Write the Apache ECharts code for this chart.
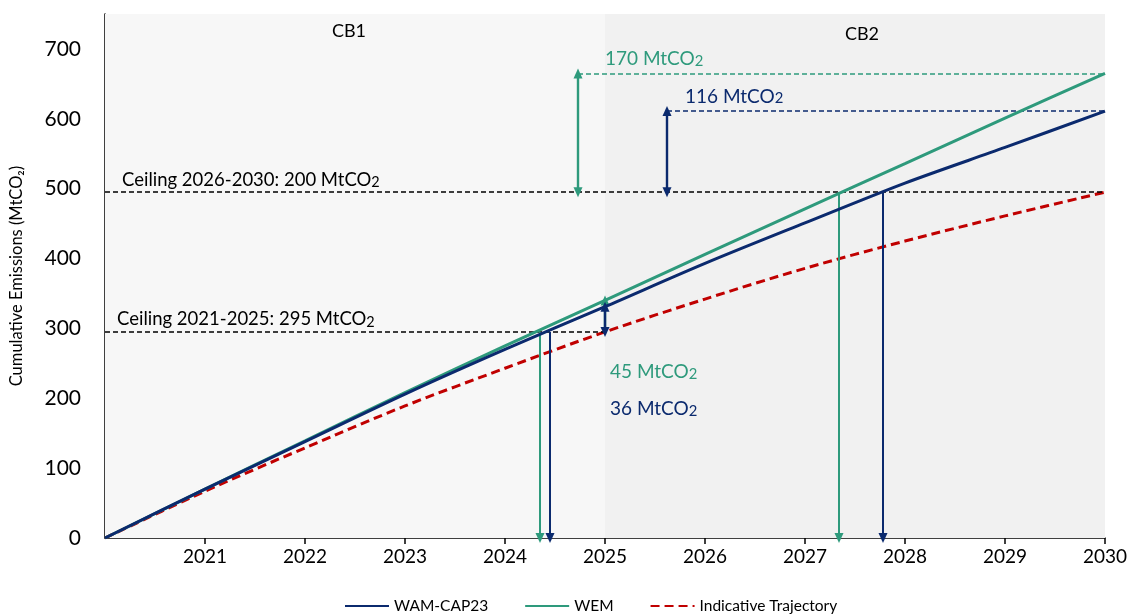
<!DOCTYPE html>
<html>
<head>
<meta charset="utf-8">
<script src="https://cdn.jsdelivr.net/npm/echarts@6/dist/echarts.min.js"></script>
<style>
  html, body { margin: 0; padding: 0; background: #ffffff; }
  #chart { width: 1132px; height: 614px; }
</style>
</head>
<body>
<div id="chart"></div>
<script>
// Cumulative emissions since 2020, MtCO2
const years = [2020, 2021, 2022, 2023, 2024, 2025, 2026, 2027, 2028, 2029, 2030];
const wamCap23 = [0, 70, 138, 206, 270, 331, 393, 451, 508, 559, 611];
const wem = [0, 70, 139, 208, 275, 340, 406, 471, 536, 601, 665];
const indicativeTrajectory = [0, 67, 129, 189, 243, 295, 342, 386, 425, 461, 495];

// Carbon budgets
const ceilingCB1 = 295;          // 2021-2025
const budgetCB2 = 200;           // 2026-2030
const ceilingCB2 = ceilingCB1 + budgetCB2;

// Overshoots of each scenario against the ceilings
const overshootWem2025 = 45;
const overshootWam2025 = 36;
const overshootWem2030 = 170;
const overshootWam2030 = 116;

// Year at which each scenario reaches a ceiling
const wemReachesCB1 = 2024.35;
const wamReachesCB1 = 2024.45;
const wemReachesCB2 = 2027.34;
const wamReachesCB2 = 2027.78;

const NAVY = '#0b2a6e';
const GREEN = '#2e9a7c';
const RED = '#c00000';
const FONT = 'Lato';

const pairs = (vals) => years.map((y, i) => [y, vals[i]]);

// markLine segment helper: from/to in data space, arrowheads optional
function seg(from, to, color, opts) {
  const o = opts || {};
  const ls = { color: color, width: o.width || 2, type: o.dash ? [5, 3] : 'solid' };
  return [
    { coord: from, symbol: o.startArrow ? 'triangle' : 'none', symbolSize: [9, 10], lineStyle: ls },
    { coord: to, symbol: o.endArrow ? 'triangle' : 'none', symbolSize: [9, 10], lineStyle: ls }
  ];
}

const chart = echarts.init(document.getElementById('chart'), null, { renderer: 'canvas' });

const annotationLines = [
  // ceilings
  seg([2020, ceilingCB1], [2025, ceilingCB1], '#000', { dash: true, width: 1.6 }),
  seg([2020, ceilingCB2], [2030, ceilingCB2], '#000', { dash: true, width: 1.6 }),
  // 2030 overshoot levels
  seg([2024.73, ceilingCB2 + overshootWem2030], [2030, ceilingCB2 + overshootWem2030], GREEN, { dash: true, width: 1.6 }),
  seg([2025.62, ceilingCB2 + overshootWam2030], [2030, ceilingCB2 + overshootWam2030], NAVY, { dash: true, width: 1.6 }),
  // 2030 overshoot arrows
  seg([2024.73, ceilingCB2], [2024.73, ceilingCB2 + overshootWem2030], GREEN, { startArrow: true, endArrow: true, width: 2.4 }),
  seg([2025.62, ceilingCB2], [2025.62, ceilingCB2 + overshootWam2030], NAVY, { startArrow: true, endArrow: true, width: 2.4 }),
  // 2025 overshoot arrows
  seg([2025, ceilingCB1], [2025, ceilingCB1 + overshootWem2025], GREEN, { endArrow: true, width: 2.4 }),
  seg([2025, ceilingCB1], [2025, ceilingCB1 + overshootWam2025], NAVY, { startArrow: true, endArrow: true, width: 2.4 }),
  // dates when budgets are exhausted
  seg([wemReachesCB1, ceilingCB1], [wemReachesCB1, 0], GREEN, { endArrow: true, width: 2 }),
  seg([wamReachesCB1, ceilingCB1], [wamReachesCB1, 0], NAVY, { endArrow: true, width: 2 }),
  seg([wemReachesCB2, ceilingCB2], [wemReachesCB2, 0], GREEN, { endArrow: true, width: 2 }),
  seg([wamReachesCB2, ceilingCB2], [wamReachesCB2, 0], NAVY, { endArrow: true, width: 2 })
];

chart.setOption({
  animation: false,
  textStyle: { fontFamily: FONT },
  grid: { left: 105, right: 27, top: 14, bottom: 76, containLabel: false },
  xAxis: {
    type: 'value',
    min: 2020, max: 2030, interval: 1,
    axisLine: { show: true, lineStyle: { color: '#000', width: 1.5 } },
    axisTick: { show: true, length: 6, lineStyle: { color: '#000', width: 1.5 } },
    axisLabel: {
      showMinLabel: false, color: '#000', fontSize: 19, margin: 9, fontFamily: FONT,
      formatter: (v) => String(v)
    },
    splitLine: { show: false }
  },
  yAxis: {
    type: 'value',
    min: 0, max: 750, interval: 100,
    name: 'Cumulative Emissions (MtCO\u2082)',
    nameLocation: 'middle',
    nameGap: 80,
    nameTextStyle: { color: '#000', fontSize: 16.5, fontFamily: FONT },
    axisLine: { show: true, lineStyle: { color: '#000', width: 1.5 } },
    axisTick: { show: false },
    axisLabel: { showMaxLabel: false, color: '#000', fontSize: 21, margin: 24, fontFamily: FONT },
    splitLine: { show: false }
  },
  legend: {
    left: 339, top: 593,
    itemWidth: 44, itemHeight: 14, itemGap: 36,
    itemStyle: { opacity: 0, borderWidth: 0 },
    textStyle: { color: '#000', fontSize: 15.5, fontFamily: FONT },
    data: ['WAM-CAP23', 'WEM', 'Indicative Trajectory']
  },
  series: [
    {
      name: 'periods', type: 'line', data: [], silent: true, z: 0,
      markArea: {
        silent: true,
        data: [
          [{ xAxis: 2020, itemStyle: { color: '#f7f7f7' } }, { xAxis: 2025 }],
          [{ xAxis: 2025, itemStyle: { color: '#f1f1f1' } }, { xAxis: 2030 }]
        ]
      }
    },
    {
      name: 'annotations', type: 'line', data: [], silent: true, z: 3,
      markLine: {
        silent: true, animation: false,
        label: { show: false },
        emphasis: { disabled: true },
        data: annotationLines
      }
    },
    {
      name: 'Indicative Trajectory', type: 'line', data: pairs(indicativeTrajectory),
      smooth: 0.3, symbol: 'none', z: 4,
      itemStyle: { color: RED },
      lineStyle: { color: RED, width: 3, type: [9, 5] }
    },
    {
      name: 'WEM', type: 'line', data: pairs(wem),
      smooth: 0.3, symbol: 'none', z: 5,
      itemStyle: { color: GREEN },
      lineStyle: { color: GREEN, width: 3 }
    },
    {
      name: 'WAM-CAP23', type: 'line', data: pairs(wamCap23),
      smooth: 0.3, symbol: 'none', z: 6,
      itemStyle: { color: NAVY },
      lineStyle: { color: NAVY, width: 3 }
    }
  ]
});

// Text annotations placed in data space
function px(x, y) { return chart.convertToPixel({ gridIndex: 0 }, [x, y]); }
function co2Text(prefix, color, anchor, dy, size) {
  const p = px(anchor[0], anchor[1]);
  const fs = size || 18.5;
  return {
    type: 'text', x: p[0], y: p[1] + dy, z: 100, silent: true,
    style: {
      text: '{a|' + prefix + 'MtCO}{b|2}',
      align: 'left', verticalAlign: 'middle',
      rich: {
        a: { fontFamily: FONT, fontSize: fs, fill: color, lineHeight: 22, verticalAlign: 'bottom' },
        b: { fontFamily: FONT, fontSize: fs * 0.78, fill: color, lineHeight: 18, verticalAlign: 'bottom' }
      }
    }
  };
}
function plainText(text, anchor, dy) {
  const p = px(anchor[0], anchor[1]);
  return {
    type: 'text', x: p[0], y: p[1] + dy, z: 100, silent: true,
    style: { text: text, fontFamily: FONT, fontSize: 18, fill: '#000', align: 'center', verticalAlign: 'middle' }
  };
}

chart.setOption({
  graphic: [
    plainText('CB1', [2022.44, 750], 17),
    plainText('CB2', [2027.57, 750], 20),
    co2Text('Ceiling 2021-2025: ' + ceilingCB1 + ' ', '#000', [2020.12, ceilingCB1], -14),
    co2Text('Ceiling 2026-2030: ' + budgetCB2 + ' ', '#000', [2020.17, ceilingCB2], -14),
    co2Text(overshootWem2030 + ' ', GREEN, [2025.0, ceilingCB2 + overshootWem2030], -16, 19),
    co2Text(overshootWam2030 + ' ', NAVY, [2025.8, ceilingCB2 + overshootWam2030], -16, 19),
    co2Text(overshootWem2025 + ' ', GREEN, [2025.05, 240], 0, 19),
    co2Text(overshootWam2025 + ' ', NAVY, [2025.05, 187], 0, 19)
  ]
});
</script>
</body>
</html>
